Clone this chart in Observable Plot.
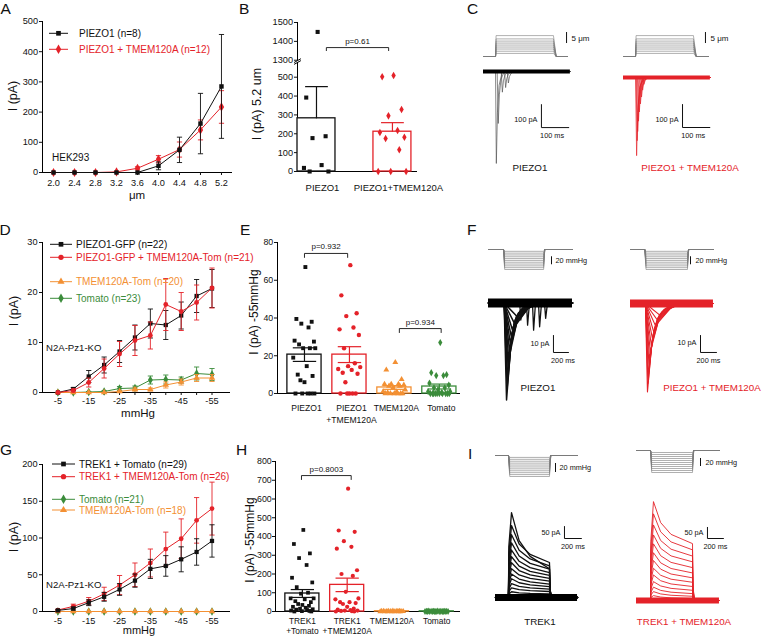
<!DOCTYPE html>
<html><head><meta charset="utf-8">
<script src="https://cdn.jsdelivr.net/npm/d3@7"></script>
<script src="https://cdn.jsdelivr.net/npm/@observablehq/plot@0.6"></script>
<style>
html,body{margin:0;padding:0;background:#fff}
#fig{position:relative;width:763px;height:636px;overflow:hidden;background:#fff}
</style></head><body><div id="fig"></div>
<script>
// ================= DATA =================
// A: HEK293 poke, I (pA) vs displacement
const displacementUm = [2.0,2.4,2.8,3.2,3.6,4.0,4.4,4.8,5.2];
const aPiezo1 = [0,0,0,0,0,22,75,162,285];
const aPiezo1Err = [0,0,0,0,0,13,42,100,172];
const aPiezoTmem = [0,0,0,2,14,44,76,141,217];
const aPiezoTmemErr = [0,0,0,1,5,12,25,33,54];
const aNames = ["PIEZO1 (n=8)","PIEZO1 + TMEM120A (n=12)"];
const aYTicks = [0,100,200,300,400,500];

// B: current at 5.2 um
const bLabels = ["PIEZO1","PIEZO1+TMEM120A"];
const bMeans = [282,211];
const bSems = [168,48];
const bPiezo1Pts = [1450,392,187,177,34,19,0,0];
const bPiezoTmemPts = [509,502,329,295,217,207,182,175,115,0,0,0];
const bTicks = [0,100,200,300,400,500,1300,1400,1500];
const bTickLabels = ["0","100","200","300","400","500","1300","1400","1500"];

// D: N2A-Pz1-KO, PIEZO1 pressure
const pressureMmHg = [-5,-10,-15,-20,-25,-30,-35,-40,-45,-50,-55];
const pressureTicks = [-5,-15,-25,-35,-45,-55];
const pressureMinor = [-10,-20,-30,-40,-50];
const dPiezo = [0,0.7,3.2,5.5,8.2,11.0,13.8,13.5,15.4,19.3,20.8];
const dPiezoErr = [0,0.3,1.2,1.6,2.2,2.5,2.9,2.9,2.7,3.3,3.8];
const dPiezoTmem = [0,0.4,2.0,4.8,7.7,10.4,11.4,17.6,16.2,18.0,20.9];
const dPiezoTmemErr = [0,0.3,0.9,1.9,2.5,3.0,2.7,5.2,3.8,3.5,4.0];
const dTmem = [0,0,0,0,0.2,0.6,0.6,1.5,2.1,2.9,2.9];
const dTmemErr = [0,0,0,0,0.1,0.3,0.3,0.6,0.6,0.7,0.7];
const dTomato = [0,0,0.1,0.2,0.8,0.9,2.5,2.6,2.5,3.8,3.6];
const dTomatoErr = [0,0,0.1,0.2,0.4,0.4,0.8,0.9,0.6,1.3,1.2];
const dNames = ["PIEZO1-GFP (n=22)","PIEZO1-GFP + TMEM120A-Tom (n=21)","TMEM120A-Tom (n=20)","Tomato (n=23)"];
const dYTicks = [0,10,20,30];

// E: current at -55 mmHg
const eLabels = ["PIEZO1","PIEZO1\n+TMEM120A","TMEM120A","Tomato"];
const eMeans = [20.6,20.6,3.2,3.7];
const eSems = [3.6,4.2,1.0,1.3];
const ePiezoPts = [67,39.5,38,37,35,28,27.5,26,24,24,24,19,14.5,10,9.3,7,6,0,0,0,0,0];
const ePiezoTmemPts = [68,52,42.5,41,35,34,31,24,16,14.5,14,13,12.5,11,10.5,6,0,0,0,0,0];
const eTmemPts = [16.5,12.5,7.5,5,5,5,4.5,4,4,3,2,1,1,0.5,0,0,0,0,0,0];
const eTomatoPts = [27,11,10,9.5,9.5,5.5,4.5,3,3,2,1,1,0.5,0,0,0,0,0,0,0,0,0,0];
const eYTicks = [0,20,40,60,80];

// G: N2A-Pz1-KO, TREK1 pressure
const gTrek = [1.5,4,12,20,30,42,58,62,71,81,96];
const gTrekErr = [1,2,4,6,8,9,13,14,17,18,22];
const gTrekTmem = [2,7,14,24,36,50,66,85,99,124,140];
const gTrekTmemErr = [1,3,5,9,13,16,19,23,27,31,36];
const gTomato = [0,0,0,0,0,0,0,0,0,0,0];
const gTmem = [0,0,0,0,0,0,0,0,0,0,0];
const gZeroErr = [0,0,0,0,0,0,0,0,0,0,0];
const gNames = ["TREK1 + Tomato (n=29)","TREK1 + TMEM120A-Tom (n=26)","Tomato (n=21)","TMEM120A-Tom (n=18)"];
const gYTicks = [0,50,100,150,200];

// H: TREK1 current at -55 mmHg
const hLabels = ["TREK1\n+Tomato","TREK1\n+TMEM120A","TMEM120A","Tomato"];
const hMeans = [96,142,1.5,1];
const hSems = [21,36,0.5,0.4];
const hTrekPts = [435,360,310,285,248,180,155,130,100,95,70,70,65,55,50,40,35,30,25,20,15,12,10,8,5,3,2,0,0];
const hTrekTmemPts = [655,432,425,375,345,335,220,200,190,105,70,65,50,50,45,40,25,15,10,8,5,5,3,2,0,0];
const hTmemPts = [4,3,3,2,2,2,1,1,1,1,1,0,0,0,0,0,0,0];
const hTomatoPts = [3,3,2,2,1,1,1,1,0,0,0,0,0,0,0,0,0,0,0,0,0];
const hYTicks = [0,100,200,300,400,500,600,700,800];

// C: example poke traces (ms, pA)
const cStimUm = [1.4,2.4,3.4,4.3,5.2,6.1,7.0,8.0,9.5];
const cPiezoPeakMs = [47,54,69,81,91];
const cPiezoPeakPa = [-400,-226,-90,-70,-50];
const cTmemPeakMs = [48,50,52,55,58,62,66,70,75];
const cTmemPeakPa = [-340,-275,-235,-190,-150,-115,-85,-55,-30];

// F: example pressure traces PIEZO1 (ms, pA)
const fPiezoPeakMs = [240,248,255,262,270,280,292,305,320,345,380];
const fPiezoPeakPa = [-57,-50,-44,-38,-33,-28,-24,-20,-16,-12,-8];
const fPiezoEventMs = [430,520,600,680,760];
const fPiezoEventPa = [-10,-13,-16,-14,-9];
const fTmemPeakMs = [212,218,224,232,240,250,262,276,292,312,340,370];
const fTmemPeakPa = [-52,-47,-42,-37,-33,-29,-25,-21,-17,-13,-10,-7];

// I: example pressure traces TREK1 (pA at peak, pA at end of step)
const iTrekPeakPa = [354,300,262,228,198,170,145,120,98,78,58,40,24,12];
const iTrekEndPa  = [120,146,132,118,104,92,80,68,56,45,35,25,15,8];
const iTmemPeakPa = [445,390,340,295,255,215,180,145,115,85,60,40,22];
const iTmemEndPa  = [256,228,200,174,148,124,102,82,63,46,31,19,9];

// ================= STYLE / HELPERS =================
const FONT = '"Liberation Sans", Arial, Helvetica, sans-serif';
const BLACK = "#111", RED = "#e42229", ORANGE = "#f39033", GREEN = "#3b8c3b", GRAY = "#7a7a7a";
const JIT = [0.02,-0.18,0.16,-0.07,0.09,-0.22,0.21,-0.12,0.12,-0.03,0.24,-0.25,0.05,-0.15,0.18,-0.09,0.0,0.14,-0.2,0.07,-0.05,0.22,-0.13,0.1,-0.24,0.15,-0.01,0.19,-0.17];
const fig = document.getElementById("fig");
function place(node, left, top){
  node.style.position = "absolute"; node.style.left = left + "px"; node.style.top = top + "px";
  fig.appendChild(node);
}
const baseStyle = (size) => ({fontFamily: FONT, fontSize: size + "px", color: "#111", background: "transparent", overflow: "visible"});
const capSym = {draw(ctx, size){ const r = Math.sqrt(size / Math.PI); ctx.moveTo(-r, 0); ctx.lineTo(r, 0); }};

function linePanel(c){
  const [x0, x1] = c.xDomain, [y0, y1] = c.yDomain;
  const marks = [
    Plot.ruleX([x0], {y1: y0, y2: y1, stroke: "#000", strokeWidth: 1}),
    Plot.ruleY([y0], {x1: x0, x2: x1, stroke: "#000", strokeWidth: 1}),
    Plot.axisX({ticks: c.xTicks, tickFormat: c.xFormat, tickSize: 3, tickPadding: c.xPad, label: null, fontSize: 9.2}),
    Plot.axisY({ticks: c.yTicks, tickSize: 3, tickPadding: c.yPad, label: null, fontSize: 9.2})
  ];
  if (c.xMinor) marks.push(Plot.axisX({ticks: c.xMinor, tickFormat: () => "", tickSize: 3, label: null}));
  for (const s of c.series){
    const rows = c.x.map((x, i) => ({x, y: s.y[i], e: s.e[i]}));
    const we = rows.filter(d => d.e > 0);
    marks.push(Plot.link(we, {x1: "x", x2: "x", y1: d => d.y - d.e, y2: d => d.y + d.e, stroke: s.color, strokeWidth: 0.9}));
    marks.push(Plot.dot(we, {x: "x", y: d => d.y + d.e, symbol: capSym, r: 2.6, stroke: s.color, fill: "none", strokeWidth: 0.9}));
    marks.push(Plot.dot(we, {x: "x", y: d => d.y - d.e, symbol: capSym, r: 2.6, stroke: s.color, fill: "none", strokeWidth: 0.9}));
    marks.push(Plot.line(rows, {x: "x", y: "y", stroke: s.color, strokeWidth: 1}));
    marks.push(Plot.dot(rows, {x: "x", y: "y", symbol: s.symbol, r: s.r, fill: s.color, stroke: "none"}));
  }
  const p = Plot.plot({width: c.width, height: c.height, marginLeft: c.mL, marginRight: c.mR, marginTop: c.mT, marginBottom: c.mB,
    x: {domain: c.xDomain, axis: null}, y: {domain: c.yDomain, axis: null}, style: baseStyle(9.2), marks});
  place(p, c.left, c.top);
}

function barPanel(c){
  const ym = c.yMap || (v => v);
  const [x0, x1] = c.xDomain;
  const tickPos = c.ticks.map(ym);
  const marks = [];
  for (const [a, b] of c.axisSegs) marks.push(Plot.ruleX([x0], {y1: a, y2: b, stroke: "#000", strokeWidth: 1}));
  if (c.breakMarks) marks.push(Plot.link(c.breakMarks, {x1: x0 - 0.045, x2: x0 + 0.045, y1: d => d - 10, y2: d => d + 10, stroke: "#000", strokeWidth: 1}));
  marks.push(Plot.ruleY([0], {x1: x0, x2: x1, stroke: "#000", strokeWidth: 1}));
  marks.push(Plot.axisY({ticks: tickPos, tickFormat: v => c.tickLabels[tickPos.indexOf(v)], tickSize: 3, tickPadding: c.yPad, label: null, fontSize: c.tickSize}));
  const bars = c.groups.map((g, i) => ({...g, i}));
  for (const g of bars){
    marks.push(Plot.rect([g], {x1: d => d.i - c.half, x2: d => d.i + c.half, y1: 0, y2: d => ym(d.mean), fill: "#fff", stroke: g.color, strokeWidth: 1.3}));
  }
  for (const g of bars){
    const lo = c.twoSided ? g.mean - g.sem : g.mean, hi = g.mean + g.sem;
    marks.push(Plot.link([g], {x1: d => d.i, x2: d => d.i, y1: ym(lo), y2: ym(hi), stroke: g.color, strokeWidth: 1.2}));
    const caps = c.twoSided ? [lo, hi] : [hi];
    marks.push(Plot.link(caps, {x1: g.i - c.capHalf, x2: g.i + c.capHalf, y1: d => ym(d), y2: d => ym(d), stroke: g.color, strokeWidth: 1.2}));
    const pts = g.pts.slice().sort((a, b) => b - a).map((v, k) => ({x: g.i + JIT[k % JIT.length] * c.spread, y: ym(v)}));
    marks.push(Plot.dot(pts, {x: "x", y: "y", symbol: g.symbol, r: c.r, fill: g.color, stroke: "none"}));
  }
  marks.push(Plot.text(bars, {x: "i", frameAnchor: "bottom", dy: c.labelDy, dx: c.labelDx, text: "label", lineAnchor: "top", fontSize: c.labelSize, lineHeight: c.lineHeight, fill: "#111"}));
  for (const br of c.brackets){
    marks.push(Plot.line([[br.i0, br.y - br.leg], [br.i0, br.y], [br.i1, br.y], [br.i1, br.y - br.leg]], {x: d => d[0], y: d => d[1], stroke: "#111", strokeWidth: 0.9}));
    marks.push(Plot.text([br], {x: d => (d.i0 + d.i1) / 2, y: "y", text: "text", dy: -4, lineAnchor: "bottom", fontSize: 8, fill: "#111"}));
  }
  const p = Plot.plot({width: c.width, height: c.height, marginLeft: c.mL, marginRight: c.mR, marginTop: c.mT, marginBottom: c.mB,
    x: {domain: c.xDomain, axis: null}, y: {domain: c.yDomain}, style: baseStyle(9), marks});
  place(p, c.left, c.top);
}

function tracePlot(g, marks){
  const xd = [(g.left - g.x0) * g.xk, (g.left + g.width - g.x0) * g.xk];
  const yd = [(g.y0 - g.top - g.height) * g.yk, (g.y0 - g.top) * g.yk];
  const p = Plot.plot({width: g.width, height: g.height, margin: 0, x: {domain: xd, axis: null}, y: {domain: yd, axis: null}, style: baseStyle(7.3), marks});
  place(p, g.left, g.top);
}
function stimPanel(g, levels, on, off, end, rOn, rOff, bar){
  const rows = levels.flatMap((L, k) => [[0,0],[on,0],[on + rOn, L],[off, L],[off + rOff, 0],[end, 0]].map(([t, v]) => ({k, t, v})));
  tracePlot(g, [
    Plot.line(rows, {x: "t", y: "v", z: "k", stroke: GRAY, strokeWidth: 0.6}),
    Plot.ruleX([bar], {x: "t", y1: "v1", y2: "v2", stroke: "#111", strokeWidth: 1}),
    Plot.text([bar], {x: "t", y: d => (d.v1 + d.v2) / 2, text: "label", textAnchor: "start", dx: bar.dx, fontSize: bar.size, fill: "#111"})
  ]);
}
function currentPanel(g, rows, color, lw, band, end, sb, extra = []){
  tracePlot(g, [
    Plot.line(rows, {x: "t", y: "v", z: "k", stroke: color, strokeWidth: lw, strokeLinejoin: "round"}),
    ...extra,
    Plot.ruleY([0], {x1: 0, x2: end, stroke: color === RED ? RED : "#000", strokeWidth: band}),
    Plot.line([[sb.t, sb.v + sb.dv], [sb.t, sb.v], [sb.t + sb.dt, sb.v]], {x: d => d[0], y: d => d[1], stroke: "#111", strokeWidth: 1}),
    Plot.text([sb], {x: "t", y: d => d.v + d.dv * d.vf, text: "vLabel", textAnchor: "end", dx: -4, fontSize: 7.3, fill: "#111"}),
    Plot.text([sb], {x: d => d.t + d.dt / 2, y: "v", text: "tLabel", dy: 8.5, dx: sb.tdx || 0, fontSize: 7.3, fill: "#111"})
  ]);
}
const vertices = (list, k) => list.map(([t, v]) => ({k, t, v}));
function pokeRows(peakMs, peakPa, onset, end){
  return peakMs.flatMap((pk, k) => { const A = peakPa[k]; const on = Math.max(onset, pk - 4);
    return vertices([[0,0],[on,0],[pk,A],[pk+4,A*0.45],[pk+10,A*0.15],[pk+22,0],[end,0]], k); });
}
function inactRows(peakMs, peakPa, onset, end){
  return peakMs.flatMap((pk, k) => { const A = peakPa[k];
    return vertices([[0,0],[onset+8,0],[pk,A],[pk+50,A*0.5],[pk+130,A*0.22],[pk+280,A*0.06],[pk+420,0],[end,0]], k); });
}
function trekRows(peakPa, endPa, onset, pk, off, end){
  return peakPa.flatMap((A, k) => { const E = endPa[k];
    return vertices([[0,0],[onset,0],[onset+4,A*0.6],[pk,A],[pk+90,E+(A-E)*0.5],[pk+220,E+(A-E)*0.22],[off,E],[off+6,E*0.25],[off+25,0],[end,0]], k); });
}

// ================= PANEL A =================
linePanel({left: 0, top: 0, width: 250, height: 200, mL: 42, mR: 18, mT: 21, mB: 28,
  xDomain: [1.79, 5.41], yDomain: [0, 500], x: displacementUm, xTicks: displacementUm, xFormat: d3.format(".1f"),
  yTicks: aYTicks, xPad: 3.5, yPad: 1.5,
  series: [
    {y: aPiezoTmem, e: aPiezoTmemErr, color: RED, symbol: "diamond", r: 2.8},
    {y: aPiezo1, e: aPiezo1Err, color: BLACK, symbol: "square", r: 2.5}
  ]});

// ================= PANEL D =================
linePanel({left: 0, top: 200, width: 250, height: 220, mL: 42, mR: 20, mT: 42, mB: 28,
  xDomain: [0, -61], yDomain: [0, 30], x: pressureMmHg, xTicks: pressureTicks, xMinor: pressureMinor, xFormat: d => String(d),
  yTicks: dYTicks, xPad: 2, yPad: 2,
  series: [
    {y: dTomato, e: dTomatoErr, color: GREEN, symbol: "diamond", r: 2.6},
    {y: dTmem, e: dTmemErr, color: ORANGE, symbol: "triangle", r: 2.4},
    {y: dPiezo, e: dPiezoErr, color: BLACK, symbol: "square", r: 2.4},
    {y: dPiezoTmem, e: dPiezoTmemErr, color: RED, symbol: "circle", r: 2.4}
  ]});

// ================= PANEL G =================
linePanel({left: 0, top: 410, width: 250, height: 226, mL: 42, mR: 20, mT: 54, mB: 25,
  xDomain: [0, -61], yDomain: [0, 200], x: pressureMmHg, xTicks: pressureTicks, xMinor: pressureMinor, xFormat: d => String(d),
  yTicks: gYTicks, xPad: 2.5, yPad: 2,
  series: [
    {y: gTomato, e: gZeroErr, color: GREEN, symbol: "diamond", r: 2.6},
    {y: gTmem, e: gZeroErr, color: ORANGE, symbol: "triangle", r: 2.4},
    {y: gTrekTmem, e: gTrekTmemErr, color: RED, symbol: "circle", r: 2.4},
    {y: gTrek, e: gTrekErr, color: BLACK, symbol: "square", r: 2.4}
  ]});

// ================= PANEL B =================
barPanel({left: 250, top: 0, width: 210, height: 200, mL: 47, mR: 43, mT: 22, mB: 29,
  xDomain: [-0.25, 1.33], yDomain: [0, 790], yMap: v => v >= 1000 ? v - 710 : v,
  ticks: bTicks, tickLabels: bTickLabels, tickSize: 9.2, yPad: 1.5, axisSegs: [[0, 578], [588, 790]], breakMarks: [578, 588],
  half: 0.25, capHalf: 0.15, twoSided: false, spread: 0.75, r: 2.3,
  labelDy: 11, labelDx: 6, labelSize: 9.5, lineHeight: 1.3,
  groups: [
    {label: bLabels[0], mean: bMeans[0], sem: bSems[0], pts: bPiezo1Pts, color: BLACK, symbol: "square"},
    {label: bLabels[1], mean: bMeans[1], sem: bSems[1], pts: bPiezoTmemPts, color: RED, symbol: "diamond"}
  ],
  brackets: [{i0: 0.13, i1: 0.95, y: 657, leg: 16, text: "p=0.61"}]});

// ================= PANEL E =================
barPanel({left: 250, top: 200, width: 210, height: 220, mL: 27, mR: 0, mT: 42, mB: 27,
  xDomain: [-0.6, 3.47], yDomain: [0, 80], ticks: eYTicks, tickLabels: eYTicks.map(String), tickSize: 8.8, yPad: 1.3, axisSegs: [[0, 80]],
  half: 0.38, capHalf: 0.26, twoSided: true, spread: 1.0, r: 2.2,
  labelDy: 9, labelDx: 2, labelSize: 8.6, lineHeight: 1.4,
  groups: [
    {label: eLabels[0], mean: eMeans[0], sem: eSems[0], pts: ePiezoPts, color: BLACK, symbol: "square"},
    {label: eLabels[1], mean: eMeans[1], sem: eSems[1], pts: ePiezoTmemPts, color: RED, symbol: "circle"},
    {label: eLabels[2], mean: eMeans[2], sem: eSems[2], pts: eTmemPts, color: ORANGE, symbol: "triangle"},
    {label: eLabels[3], mean: eMeans[3], sem: eSems[3], pts: eTomatoPts, color: GREEN, symbol: "diamond"}
  ],
  brackets: [{i0: 0, i1: 0.96, y: 74.2, leg: 2.1, text: "p=0.932"}, {i0: 2.11, i1: 3.04, y: 34.4, leg: 2.1, text: "p=0.934"}]});

// ================= PANEL H =================
barPanel({left: 250, top: 410, width: 210, height: 226, mL: 25, mR: 0, mT: 51, mB: 25,
  xDomain: [-0.6, 3.53], yDomain: [0, 800], ticks: hYTicks, tickLabels: hYTicks.map(String), tickSize: 8.8, yPad: 0.8, axisSegs: [[0, 800]],
  half: 0.38, capHalf: 0.26, twoSided: true, spread: 1.05, r: 2.1,
  labelDy: 5, labelDx: 0, labelSize: 8.4, lineHeight: 1.2,
  groups: [
    {label: hLabels[0], mean: hMeans[0], sem: hSems[0], pts: hTrekPts, color: BLACK, symbol: "square"},
    {label: hLabels[1], mean: hMeans[1], sem: hSems[1], pts: hTrekTmemPts, color: RED, symbol: "circle"},
    {label: hLabels[2], mean: hMeans[2], sem: hSems[2], pts: hTmemPts, color: ORANGE, symbol: "triangle"},
    {label: hLabels[3], mean: hMeans[3], sem: hSems[3], pts: hTomatoPts, color: GREEN, symbol: "diamond"}
  ],
  brackets: [{i0: -0.02, i1: 1.09, y: 725, leg: 21, text: "p=0.8003"}]});

// ================= PANEL C =================
stimPanel({left: 475, top: 25, width: 110, height: 35, x0: 483, y0: 56, xk: 3.66, yk: 0.4545}, cStimUm, 44, 256, 307, 2, 10,
  {t: 304, v1: 5.9, v2: 10.9, label: "5 μm", dx: 5, size: 8});
stimPanel({left: 615, top: 25, width: 110, height: 35, x0: 623, y0: 56, xk: 3.66, yk: 0.4545}, cStimUm, 44, 256, 311, 2, 10,
  {t: 300, v1: 5.9, v2: 10.9, label: "5 μm", dx: 5, size: 8});
currentPanel({left: 470, top: 62, width: 105, height: 115, x0: 483, y0: 71, xk: 3.66, yk: 4.35},
  pokeRows(cPiezoPeakMs, cPiezoPeakPa, 44, 318), "#555", 0.7, 4, 318,
  {t: 212, v: -244, dv: 100, dt: 100, vLabel: "100 pA", tLabel: "100 ms", vf: 0.35, tdx: -3});
currentPanel({left: 610, top: 62, width: 110, height: 115, x0: 623, y0: 77, xk: 3.66, yk: 4.35},
  pokeRows(cTmemPeakMs, cTmemPeakPa, 44, 318), RED, 0.7, 4, 318,
  {t: 216, v: -217.5, dv: 100, dt: 100, vLabel: "100 pA", tLabel: "100 ms", vf: 0.35, tdx: -3});

// ================= PANEL F =================
stimPanel({left: 480, top: 240, width: 100, height: 35, x0: 488, y0: 249, xk: 13.3, yk: 2.75}, pressureMmHg, 200, 733, 1117, 15, 15,
  {t: 838, v1: -20, v2: -42, label: "20 mmHg", dx: 4, size: 7.3});
stimPanel({left: 620, top: 240, width: 100, height: 35, x0: 630, y0: 249, xk: 12.5, yk: 2.75}, pressureMmHg, 179, 712, 1037, 15, 15,
  {t: 750, v1: -20, v2: -42, label: "20 mmHg", dx: 5, size: 7.3});
const fEventRows = fPiezoEventMs.flatMap((t, k) => vertices([[t - 15, 0], [t, fPiezoEventPa[k]], [t + 25, 0]], k));
currentPanel({left: 478, top: 285, width: 100, height: 115, x0: 488, y0: 302.5, xk: 13.3, yk: 0.588},
  inactRows(fPiezoPeakMs, fPiezoPeakPa, 200, 1117), BLACK, 1.5, 9, 1117,
  {t: 864, v: -29.1, dv: 10, dt: 200, vLabel: "10 pA", tLabel: "200 ms", vf: 0.5, tdx: 2},
  [Plot.line(fEventRows, {x: "t", y: "v", z: "k", stroke: BLACK, strokeWidth: 1.3})]);
currentPanel({left: 620, top: 285, width: 100, height: 115, x0: 630, y0: 303, xk: 12.5, yk: 0.588},
  inactRows(fTmemPeakMs, fTmemPeakPa, 179, 1037), RED, 1.1, 8, 1037,
  {t: 875, v: -28.8, dv: 10, dt: 200, vLabel: "10 pA", tLabel: "200 ms", vf: 0.6, tdx: 0});

// ================= PANEL I =================
stimPanel({left: 485, top: 445, width: 100, height: 40, x0: 495, y0: 455, xk: 11.8, yk: 2.62}, pressureMmHg, 153, 637, 968, 15, 15,
  {t: 708, v1: -21, v2: -44.5, label: "20 mmHg", dx: 4, size: 7.3});
stimPanel({left: 625, top: 440, width: 100, height: 40, x0: 636, y0: 450, xk: 12.5, yk: 2.5}, pressureMmHg, 175, 700, 1037, 15, 15,
  {t: 800, v1: -20, v2: -40, label: "20 mmHg", dx: 5, size: 7.3});
currentPanel({left: 485, top: 495, width: 100, height: 115, x0: 495, y0: 597, xk: 11.8, yk: 4.17},
  trekRows(iTrekPeakPa, iTrekEndPa, 153, 189, 637, 968), BLACK, 1.3, 7, 968,
  {t: 814, v: 246, dv: 50, dt: 200, vLabel: "50 pA", tLabel: "200 ms", vf: 0.5, tdx: 0});
currentPanel({left: 625, top: 495, width: 100, height: 115, x0: 636, y0: 600, xk: 12.5, yk: 4.5},
  trekRows(iTmemPeakPa, iTmemEndPa, 175, 212, 700, 1037), RED, 0.9, 6, 1037,
  {t: 887, v: 279, dv: 50, dt: 200, vLabel: "50 pA", tLabel: "200 ms", vf: 0.5, tdx: 0});

// ================= TEXT OVERLAY (letters, titles, legends) =================
const ov = d3.select(fig).append("svg").attr("width", 763).attr("height", 636)
  .style("position", "absolute").style("left", "0px").style("top", "0px").style("overflow", "visible")
  .attr("font-family", FONT);
function label(x, y, s, o = {}){
  const t = ov.append("text").attr("x", x).attr("y", y).attr("font-size", o.size || 10)
    .attr("fill", o.color || "#111").attr("text-anchor", o.anchor || "start").text(s);
  if (o.rot) t.attr("transform", `rotate(${o.rot} ${x} ${y})`).attr("dy", "0.35em");
  return t;
}
[["A",0.5,13.5],["B",239,13.5],["C",467,13.5],["D",-0.5,235],["E",240,235],["F",467,235],["G",0,455],["H",236,455],["I",468,459]]
  .forEach(([s, x, y]) => label(x, y, s, {size: 15.5}));

label(12.5, 96, "I (pA)", {size: 12.5, anchor: "middle", rot: -90});
label(13.5, 311, "I (pA)", {size: 12.5, anchor: "middle", rot: -90});
label(13.5, 537, "I (pA)", {size: 12.5, anchor: "middle", rot: -90});
label(257, 104, "I (pA) 5.2 um", {size: 12.5, anchor: "middle", rot: -90});
label(254, 312, "I (pA) -55mmHg", {size: 12, anchor: "middle", rot: -90});
label(250, 540, "I (pA) -55mmHg", {size: 12, anchor: "middle", rot: -90});
label(137, 198.5, "μm", {size: 11.5, anchor: "middle"});
label(138, 417, "mmHg", {size: 11.5, anchor: "middle"});
label(139, 634, "mmHg", {size: 11, anchor: "middle"});

label(52, 161, "HEK293", {size: 10});
label(46, 351, "N2A-Pz1-KO", {size: 9.6});
label(46, 588, "N2A-Pz1-KO", {size: 9.6});

function legend(x1, x2, tx, items){
  for (const it of items){
    ov.append("line").attr("x1", x1).attr("x2", x2).attr("y1", it.y).attr("y2", it.y).attr("stroke", it.color).attr("stroke-width", 1);
    ov.append("path").attr("d", d3.symbol().type(it.sym).size(it.size || 22)()).attr("transform", `translate(${(x1 + x2) / 2},${it.y})`).attr("fill", it.color);
    ov.append("text").attr("x", tx).attr("y", it.y).attr("dy", "0.35em").attr("font-size", 10).attr("fill", it.color).text(it.label);
  }
}
legend(49, 68, 79, [
  {y: 33.3, label: aNames[0], color: BLACK, sym: d3.symbolSquare},
  {y: 49.3, label: aNames[1], color: RED, sym: d3.symbolDiamond, size: 26}]);
legend(50, 72, 76, [
  {y: 244.3, label: dNames[0], color: BLACK, sym: d3.symbolSquare},
  {y: 257.3, label: dNames[1], color: RED, sym: d3.symbolCircle},
  {y: 281.7, label: dNames[2], color: ORANGE, sym: d3.symbolTriangle},
  {y: 298.3, label: dNames[3], color: GREEN, sym: d3.symbolDiamond, size: 26}]);
legend(52, 75, 79, [
  {y: 464, label: gNames[0], color: BLACK, sym: d3.symbolSquare},
  {y: 476.7, label: gNames[1], color: RED, sym: d3.symbolCircle},
  {y: 499.3, label: gNames[2], color: GREEN, sym: d3.symbolDiamond, size: 26},
  {y: 510, label: gNames[3], color: ORANGE, sym: d3.symbolTriangle}]);

label(530, 171, "PIEZO1", {size: 9.8, anchor: "middle"});
label(690, 171, "PIEZO1 + TMEM120A", {size: 9.8, anchor: "middle", color: RED});
label(538, 391, "PIEZO1", {size: 9.8, anchor: "middle"});
label(712, 391, "PIEZO1 + TMEM120A", {size: 9.8, anchor: "middle", color: RED});
label(540, 625, "TREK1", {size: 9.8, anchor: "middle"});
label(684, 625, "TREK1 + TMEM120A", {size: 9.8, anchor: "middle", color: RED});
</script></body></html>
